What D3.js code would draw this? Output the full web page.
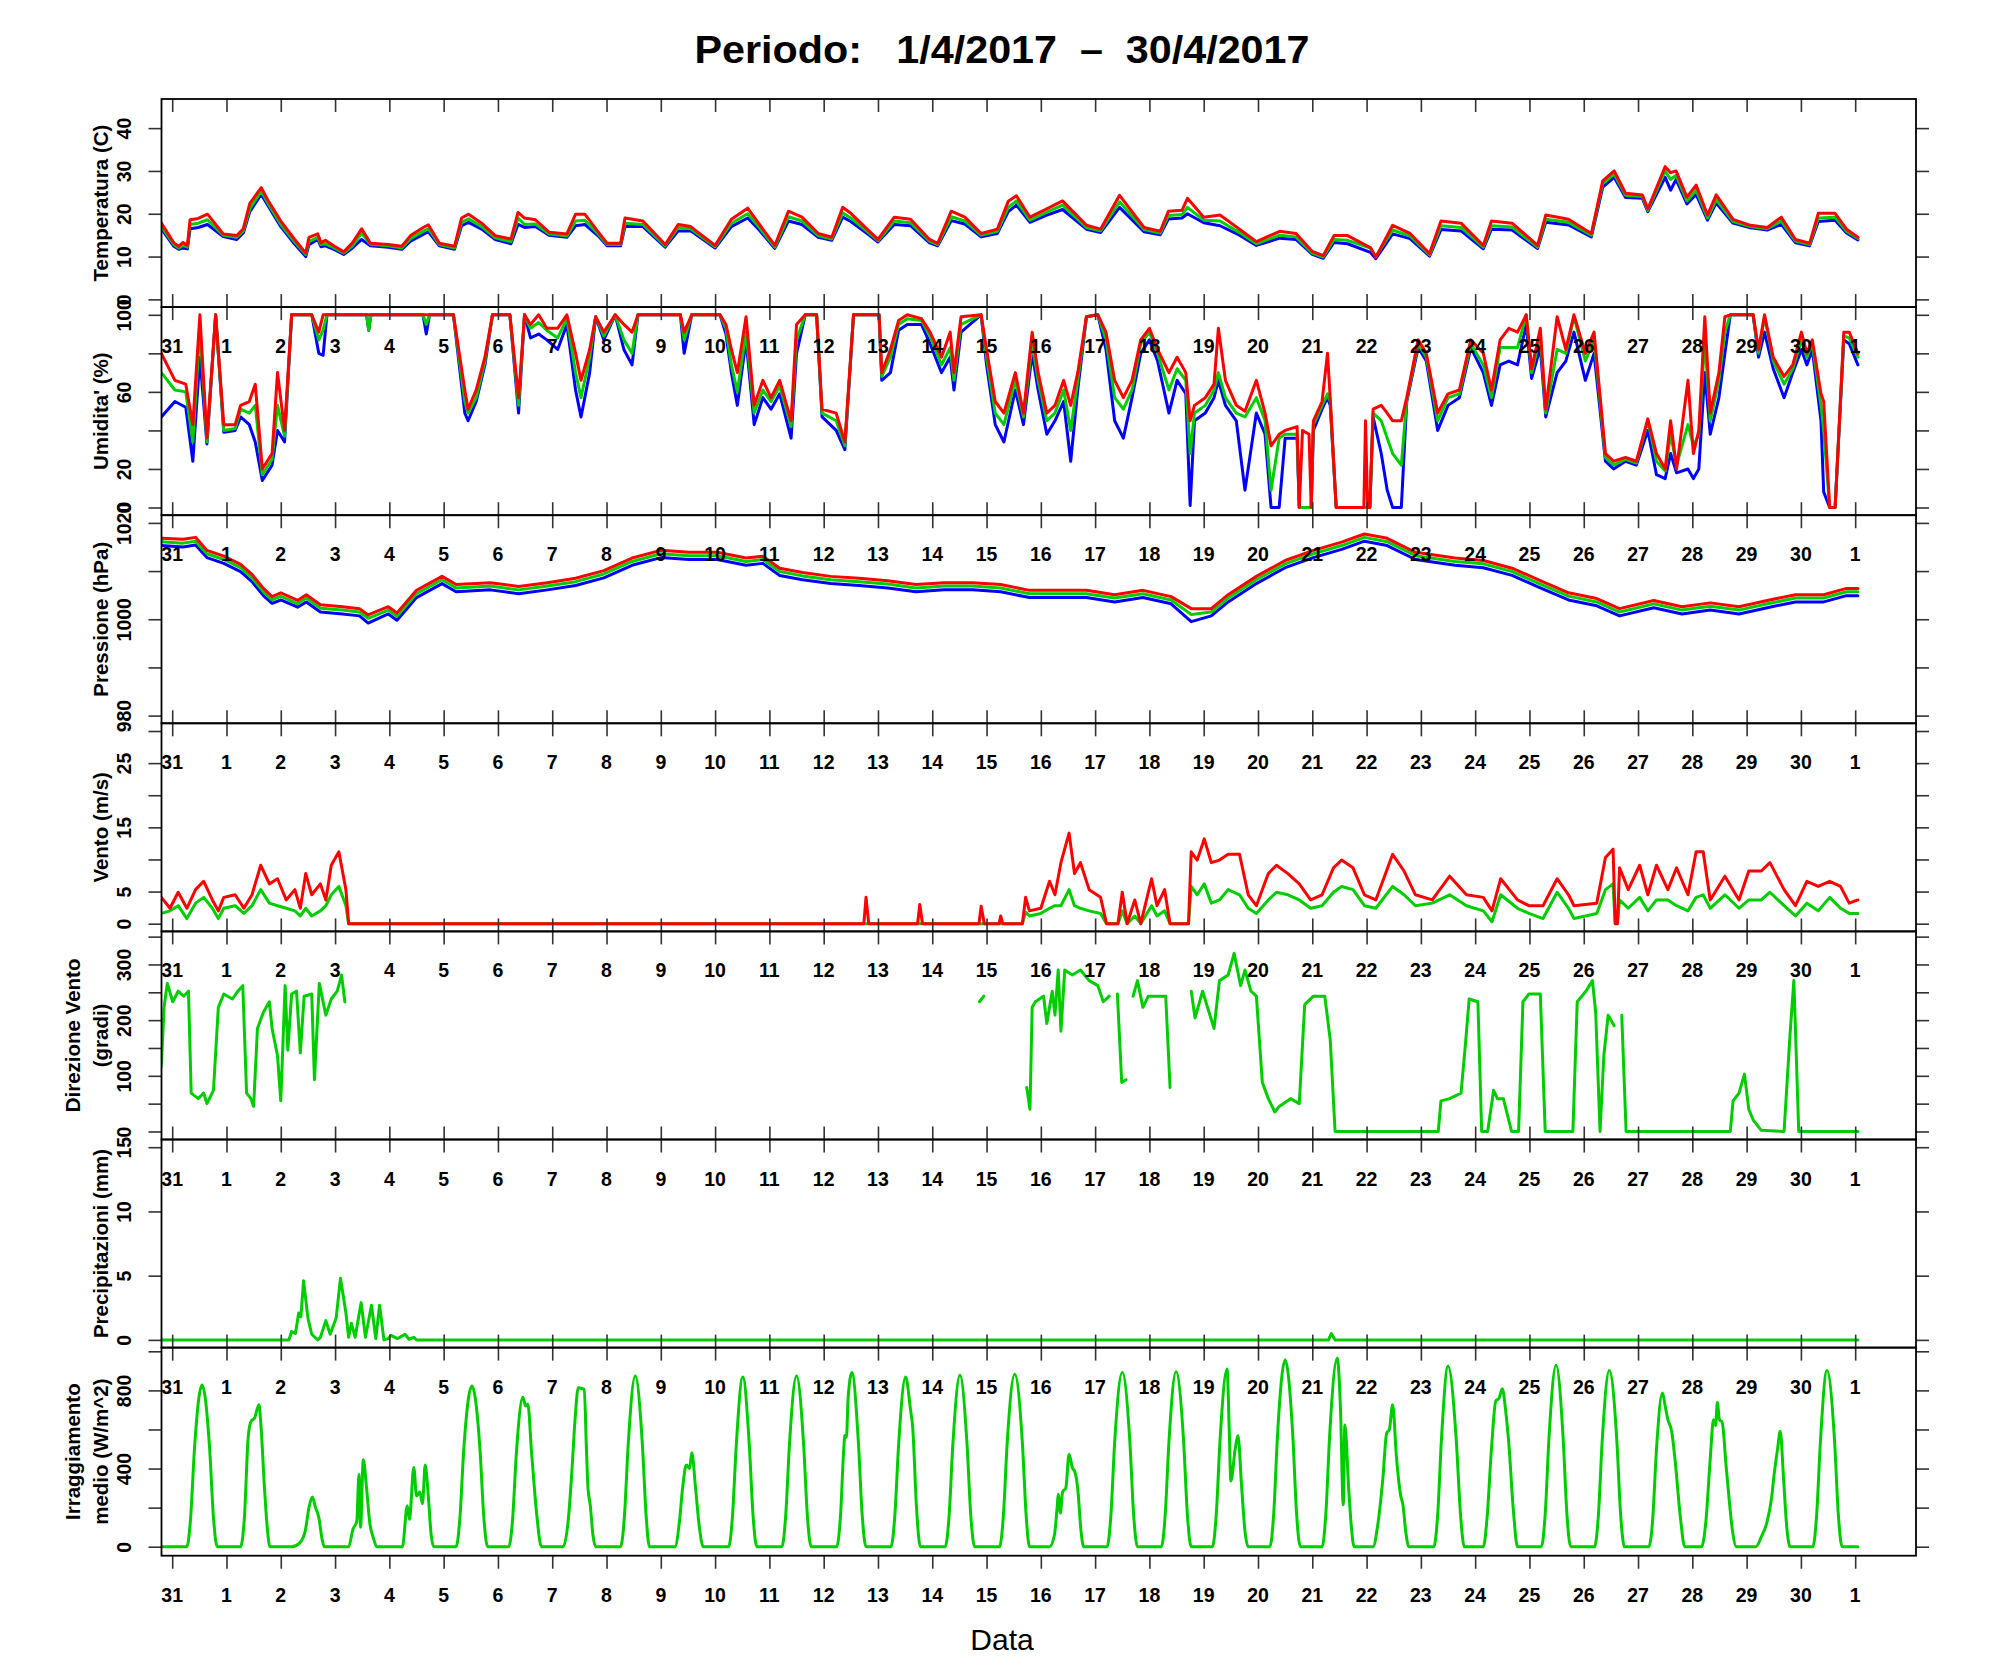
<!DOCTYPE html>
<html>
<head>
<meta charset="utf-8">
<script src="https://cdn.jsdelivr.net/npm/d3@7"></script>
<style>
  body { margin: 0; background: #fff; }
  svg { display: block; }
</style>
</head>
<body>
<svg id="chart"></svg>
<script>
//---------------------------------------------------------------------------//
// Data: time in days from the "31" tick (31 March)
//---------------------------------------------------------------------------//

var dayTicks = [0,1,2,3,4,5,6,7,8,9,10,11,12,13,14,15,16,17,18,19,20,21,22,23,24,25,26,27,28,29,30,31];
var dayLabels = ["31","1","2","3","4","5","6","7","8","9","10","11","12","13","14","15",
                 "16","17","18","19","20","21","22","23","24","25","26","27","28","29","30","1"];

// temperature [t, max, mean, min]
var tempRows = [
[-0.20,17.8,17.0,16.5],[0.03,13.2,12.8,12.4],[0.12,12.4,12.0,11.7],[0.20,13.3,12.6,12.0],[0.28,12.6,12.2,11.8],
[0.33,18.6,17.5,16.5],[0.48,18.9,17.8,16.8],[0.65,19.9,18.6,17.5],[0.94,15.3,15.0,14.7],[1.19,14.9,14.5,14.0],
[1.31,16.5,16.0,15.5],[1.43,22.4,21.2,20.5],[1.64,26.1,25.3,24.5],[1.76,23.2,22.5,22.0],[2.00,18.3,17.5,17.0],
[2.25,14.1,13.5,13.0],[2.46,10.8,10.5,10.0],[2.52,14.5,13.5,12.8],[2.68,15.3,14.5,14.0],[2.74,13.2,12.8,12.3],
[2.82,13.8,13.0,12.5],[2.99,12.4,12.0,11.6],[3.16,11.1,10.8,10.5],[3.32,13.2,12.5,12.0],[3.49,16.5,15.5,14.0],
[3.65,13.1,12.9,12.5],[3.98,12.8,12.5,12.2],[4.23,12.4,12.0,11.7],[4.39,14.9,14.2,13.6],[4.64,16.9,16.0,15.3],
[4.72,17.4,16.5,15.8],[4.92,13.1,12.8,12.5],[5.20,12.4,12.0,11.7],[5.33,19.0,18.0,17.2],[5.46,19.9,18.8,18.0],
[5.70,17.8,17.0,16.4],[5.95,14.9,14.4,14.0],[6.24,14.1,13.5,13.0],[6.37,20.3,19.0,17.5],[6.49,19.0,17.5,16.8],
[6.69,18.6,17.6,17.0],[6.94,15.7,15.3,15.0],[7.27,15.3,14.8,14.5],[7.43,19.9,18.3,17.2],[7.60,19.9,18.5,17.5],
[7.85,15.7,15.2,14.8],[8.01,13.1,12.8,12.5],[8.26,13.1,12.8,12.5],[8.34,19.0,17.8,17.0],[8.67,18.3,17.5,17.0],
[9.08,12.8,12.5,12.2],[9.32,17.5,16.8,16.0],[9.55,17.0,16.5,16.0],[10.00,12.6,12.3,12.0],[10.30,18.7,17.8,17.0],
[10.60,21.3,20.0,19.0],[10.80,17.8,17.0,16.4],[11.10,12.6,12.2,11.9],[11.35,20.6,19.3,18.3],[11.60,19.2,18.3,17.5],
[11.90,15.4,14.9,14.5],[12.15,14.5,14.1,13.8],[12.35,21.5,20.2,19.2],[12.50,20.1,19.0,18.2],[12.80,16.4,15.9,15.4],
[13.00,14.0,13.7,13.4],[13.30,19.2,18.3,17.5],[13.60,18.7,17.9,17.2],[13.95,14.0,13.6,13.2],[14.10,13.1,12.8,12.5],
[14.35,20.6,19.3,18.4],[14.60,19.2,18.3,17.6],[14.90,15.4,15.0,14.6],[15.20,16.4,15.9,15.4],[15.40,22.9,21.5,20.5],
[15.55,24.2,23.0,22.0],[15.80,19.2,18.5,18.0],[16.10,21.1,20.3,19.6],[16.40,23.0,22.0,21.0],[16.84,17.3,16.8,16.4],
[17.10,16.4,16.0,15.6],[17.45,24.3,22.8,21.5],[17.90,16.8,16.3,15.8],[18.20,15.9,15.5,15.1],[18.35,20.6,19.6,18.8],
[18.60,20.8,19.8,19.0],[18.70,23.6,21.5,20.0],[19.00,19.2,18.5,17.9],[19.30,19.7,18.3,17.2],[19.66,16.4,15.6,15.0],
[19.97,13.5,13.0,12.6],[20.40,15.9,15.0,14.3],[20.70,15.4,14.6,14.0],[21.00,11.2,10.8,10.5],[21.20,10.2,9.9,9.6],
[21.40,14.9,14.0,13.3],[21.65,14.9,13.8,13.0],[22.07,12.1,12.0,11.0],[22.17,9.8,10.0,9.5],[22.48,17.3,16.2,15.3],
[22.80,15.4,14.8,14.2],[23.16,10.7,10.4,10.1],[23.37,18.3,17.2,16.3],[23.74,17.8,16.8,16.0],[24.15,12.6,12.2,11.8],
[24.30,18.3,17.2,16.4],[24.68,17.8,16.9,16.2],[25.15,12.6,12.2,11.9],[25.30,19.7,18.7,18.0],[25.72,18.7,18.0,17.4],
[26.14,15.4,15.0,14.6],[26.35,27.7,27.0,26.2],[26.56,30.0,29.3,28.5],[26.77,24.8,24.3,23.8],[27.08,24.4,24.0,23.6],
[27.18,21.1,20.8,20.5],[27.50,31.0,30.0,28.5],[27.60,29.6,28.0,25.5],[27.70,30.0,29.0,28.0],[27.90,23.9,23.0,22.3],
[28.07,26.7,25.5,24.5],[28.28,19.7,19.0,18.5],[28.44,24.4,23.3,22.5],[28.75,18.7,18.2,17.8],[29.07,17.3,17.0,16.7],
[29.38,16.8,16.5,16.2],[29.64,19.2,18.3,17.5],[29.90,14.0,13.6,13.2],[30.16,13.1,12.8,12.5],[30.32,20.1,19.0,18.2],
[30.63,20.1,19.2,18.5],[30.84,16.4,15.9,15.5],[31.05,14.5,14.2,13.9]
];

// relative humidity [t, max, mean, min]
var humRows = [
[-0.20,80,70,47],[0.05,66,61,55],[0.25,64,60,52],[0.38,43,34,24],[0.51,100,93,78],[0.64,36,34,33],
[0.80,100,100,100],[0.95,43,40,39],[1.16,43,41,40],[1.26,53,51,47],[1.42,55,49,43],[1.53,64,53,34],
[1.66,20,17,14],[1.84,28,25,22],[1.94,70,53,40],[2.07,40,37,34],[2.20,100,100,100],[2.57,100,100,100],
[2.70,91,87,80],[2.78,100,92,79],[2.85,100,100,100],[3.58,100,100,100],[3.62,100,92,92],[3.66,100,100,100],
[4.62,100,100,100],[4.68,100,95,90],[4.74,100,100,100],[5.18,100,100,100],[5.39,61,55,49],[5.45,51,49,45],
[5.60,61,57,55],[5.76,78,76,74],[5.90,100,100,100],[6.22,100,100,100],[6.38,57,53,49],[6.49,100,100,100],
[6.60,95,93,88],[6.75,100,96,90],[6.90,93,92,87],[7.10,93,88,82],[7.27,100,98,95],[7.43,80,70,61],
[7.53,66,57,47],[7.69,82,78,70],[7.80,99,99,99],[7.95,91,89,87],[8.16,100,100,100],[8.32,95,87,82],
[8.47,91,80,74],[8.58,100,100,100],[9.36,100,100,100],[9.43,91,87,80],[9.57,100,100,100],[10.09,100,100,100],
[10.20,95,93,90],[10.30,82,74,70],[10.41,70,60,53],[10.57,99,91,87],[10.72,53,49,43],[10.88,66,61,57],
[11.03,57,55,51],[11.19,66,63,59],[11.40,45,42,36],[11.50,95,87,80],[11.66,100,100,100],[11.87,100,100,100],
[11.97,51,49,47],[12.23,49,45,40],[12.39,34,32,30],[12.55,100,100,100],[13.02,100,100,100],[13.07,70,68,66],
[13.23,82,78,70],[13.38,97,95,92],[13.54,100,98,95],[13.80,98,97,95],[13.96,91,89,85],[14.17,78,74,70],
[14.33,91,83,78],[14.40,70,66,61],[14.53,99,95,91],[14.90,100,100,100],[15.00,82,78,74],[15.16,55,49,43],
[15.32,49,43,34],[15.53,70,66,61],[15.68,49,47,43],[15.84,91,85,80],[15.95,70,66,61],[16.11,49,45,38],
[16.26,53,49,45],[16.42,66,61,55],[16.55,53,40,24],[16.68,70,66,61],[16.84,99,99,99],[17.05,100,100,100],
[17.20,91,87,82],[17.36,66,57,45],[17.52,57,51,36],[17.68,66,61,57],[17.84,87,85,80],[18.00,93,91,87],
[18.15,82,80,76],[18.36,70,61,49],[18.51,78,72,66],[18.67,70,66,59],[18.75,45,28,1],[18.83,53,49,45],
[19.03,57,53,49],[19.19,64,61,57],[19.27,93,70,66],[19.40,66,57,53],[19.60,53,49,45],[19.76,50,47,9],
[19.97,66,57,49],[20.13,49,45,38],[20.24,32,9,0],[20.39,38,36,0],[20.50,40,38,36],[20.72,42,38,36],
[20.76,0,0,0],[20.82,40,0,0],[20.94,38,0,0],[20.98,0,0,0],[21.02,45,43,40],[21.18,55,53,51],
[21.28,80,59,57],[21.33,57,55,53],[21.44,0,0,0],[21.95,0,0,0],[21.98,45,0,0],[22.02,0,0,0],
[22.06,0,0,0],[22.12,51,49,47],[22.27,53,45,28],[22.38,49,36,9],[22.48,45,28,0],[22.64,45,22,0],
[22.74,57,56,55],[22.95,87,85,83],[23.10,80,78,76],[23.31,49,45,40],[23.50,59,57,53],[23.71,61,59,57],
[23.92,87,85,83],[24.15,80,74,70],[24.30,61,57,53],[24.46,87,83,74],[24.62,93,83,76],[24.78,91,83,74],
[24.94,100,100,95],[25.04,72,70,67],[25.20,93,89,83],[25.30,51,49,47],[25.51,99,82,70],[25.67,82,80,76],
[25.82,100,99,91],[26.03,80,76,66],[26.19,91,87,80],[26.40,28,26,24],[26.55,24,22,20],[26.77,26,25,24],
[26.97,24,23,22],[27.18,46,45,40],[27.34,28,24,17],[27.50,20,19,15],[27.60,45,38,28],[27.71,20,22,18],
[27.92,66,43,20],[28.02,28,32,15],[28.12,40,38,20],[28.23,99,87,70],[28.33,49,45,38],[28.49,70,66,57],
[28.60,99,91,80],[28.70,100,100,100],[29.12,100,100,100],[29.22,82,80,78],[29.33,100,99,91],[29.49,78,76,72],
[29.69,68,64,57],[29.85,74,72,70],[30.01,91,87,82],[30.11,80,78,74],[30.21,87,85,82],[30.37,59,53,45],
[30.42,55,40,8],[30.53,0,0,0],[30.63,0,0,0],[30.79,91,89,87],[30.89,91,88,85],[31.05,80,78,74]
];

// pressure [t, max, mean, min]
var pressRows = [
[-0.20,1016.8,1016.1,1015.3],[0.20,1016.6,1015.8,1015.0],[0.43,1017.0,1016.2,1015.4],[0.64,1014.3,1013.6,1012.8],
[0.95,1013.1,1012.4,1011.6],[1.26,1011.4,1010.7,1009.9],[1.47,1009.3,1008.6,1007.8],[1.68,1006.4,1005.7,1004.9],
[1.84,1004.7,1004.0,1003.3],[2.00,1005.5,1004.8,1004.0],[2.31,1003.9,1003.2,1002.5],[2.47,1005.1,1004.4,1003.6],
[2.73,1003.0,1002.3,1001.5],[3.14,1002.6,1001.9,1001.1],[3.45,1002.2,1001.5,1000.7],[3.61,1000.9,1000.2,999.2],
[3.98,1002.6,1001.9,1001.1],[4.14,1001.3,1000.6,999.8],[4.50,1006.0,1005.3,1004.5],[4.97,1008.9,1008.2,1007.4],
[5.23,1007.2,1006.5,1005.7],[5.86,1007.6,1006.9,1006.1],[6.38,1006.8,1006.1,1005.3],[6.91,1007.6,1006.9,1006.1],
[7.43,1008.5,1007.8,1007.0],[7.95,1010.1,1009.4,1008.6],[8.47,1012.7,1012.0,1011.2],[9.00,1014.3,1013.6,1012.8],
[9.52,1013.9,1013.2,1012.4],[10.04,1013.9,1013.2,1012.4],[10.57,1012.7,1012.0,1011.2],[10.88,1013.1,1012.4,1011.6],
[11.19,1010.6,1009.9,1009.1],[11.61,1009.7,1009.0,1008.2],[12.13,1008.9,1008.2,1007.4],[12.65,1008.5,1007.8,1007.0],
[13.18,1008.0,1007.3,1006.5],[13.70,1007.2,1006.5,1005.7],[14.22,1007.6,1006.9,1006.1],[14.74,1007.6,1006.9,1006.1],
[15.26,1007.2,1006.5,1005.7],[15.79,1006.0,1005.3,1004.5],[16.30,1006.0,1005.3,1004.5],[16.84,1006.0,1005.3,1004.5],
[17.36,1005.1,1004.4,1003.6],[17.88,1006.0,1005.3,1004.5],[18.40,1004.7,1004.0,1003.2],[18.77,1002.2,1001.0,999.5],
[19.14,1002.2,1001.5,1000.7],[19.45,1005.1,1004.4,1003.6],[19.97,1008.9,1008.2,1007.4],[20.50,1012.2,1011.5,1010.7],
[21.02,1014.3,1013.6,1012.8],[21.54,1016.0,1015.3,1014.5],[21.96,1017.7,1017.0,1016.2],[22.38,1016.8,1016.1,1015.3],
[22.90,1013.9,1013.2,1012.4],[23.63,1012.7,1012.0,1011.2],[24.15,1012.2,1011.5,1010.7],[24.68,1010.6,1009.9,1009.1],
[25.20,1008.0,1007.3,1006.5],[25.72,1005.5,1004.8,1004.0],[26.24,1004.3,1003.6,1002.8],[26.66,1002.2,1001.5,1000.7],
[27.29,1003.9,1003.2,1002.4],[27.81,1002.6,1001.9,1001.1],[28.33,1003.4,1002.7,1001.9],[28.86,1002.6,1001.9,1001.1],
[29.38,1003.9,1003.2,1002.4],[29.90,1005.1,1004.4,1003.6],[30.42,1005.1,1004.4,1003.6],[30.84,1006.4,1005.7,1004.9],
[31.05,1006.4,1005.7,1004.9]
];

// wind speed [t, gust/max, mean]
var windRows = [
[-0.20,4.1,1.6],[-0.04,2.4,2.0],[0.11,4.9,2.8],[0.27,2.4,0.8],[0.43,5.3,3.2],[0.58,6.6,4.1],[0.74,3.7,2.4],
[0.85,2.0,0.8],[0.95,4.1,2.4],[1.16,4.5,2.8],[1.32,2.4,1.6],[1.47,4.5,2.8],[1.63,9.1,5.3],[1.79,6.2,3.2],
[1.94,7.0,2.8],[2.10,3.7,2.4],[2.26,5.3,2.0],[2.36,2.4,1.2],[2.46,7.8,2.4],[2.57,4.5,1.2],[2.73,6.2,2.0],
[2.83,3.7,2.8],[2.93,9.1,4.5],[3.07,11.2,5.8],[3.20,5.3,2.8],[3.25,0,0],[12.74,0,0],[12.78,4.1,0],
[12.83,0,0],[13.73,0,0],[13.77,3.0,0],[13.82,0,0],[14.86,0,0],[14.90,2.7,0],[14.96,0,0],[15.23,0,0],
[15.26,1.2,0],[15.30,0,0],[15.66,0,0],[15.72,4.1,1.8],[15.79,2.0,1.2],[16.00,2.4,1.6],[16.16,6.6,2.4],
[16.26,4.5,2.8],[16.37,9.5,2.8],[16.52,14.1,5.3],[16.62,7.8,2.8],[16.73,9.5,2.4],[16.89,5.3,2.0],
[17.10,4.1,1.6],[17.21,0,0],[17.42,0,0],[17.50,4.9,2.0],[17.59,0,0],[17.73,3.7,1.2],[17.84,0,0],
[18.04,7.0,2.8],[18.14,2.8,1.2],[18.28,5.3,2.0],[18.38,0,0],[18.72,0,0],[18.77,11.2,5.8],[18.88,9.9,4.5],
[19.01,13.2,6.2],[19.14,9.5,3.2],[19.29,9.9,3.7],[19.45,10.8,5.3],[19.66,10.8,4.5],[19.82,4.5,2.4],
[19.97,2.8,1.6],[20.19,7.8,3.7],[20.34,9.1,4.9],[20.55,7.8,4.5],[20.76,6.2,3.7],[20.97,3.7,2.4],
[21.18,4.5,2.8],[21.39,8.7,4.9],[21.54,9.9,5.8],[21.75,8.7,5.3],[21.96,4.5,2.8],[22.17,3.7,2.4],
[22.48,10.8,5.8],[22.69,8.2,4.5],[22.90,4.5,2.8],[23.21,3.7,3.2],[23.53,7.4,4.5],[23.84,4.5,2.8],
[24.15,4.1,2.0],[24.31,2.0,0.3],[24.47,7.0,4.5],[24.78,3.7,2.4],[24.99,2.8,1.6],[25.25,2.8,0.8],
[25.51,7.0,4.9],[25.72,4.5,2.4],[25.82,2.8,0.8],[26.24,3.2,1.6],[26.40,10.3,5.3],[26.54,11.6,6.2],
[26.58,0,0],[26.62,0,0],[26.66,8.7,3.7],[26.82,5.3,2.4],[27.03,9.1,4.1],[27.18,4.5,2.0],[27.34,9.1,3.7],
[27.55,5.3,3.7],[27.71,8.7,2.8],[27.92,4.5,2.0],[28.07,11.2,4.1],[28.20,11.2,4.5],[28.33,3.7,2.4],
[28.60,7.4,4.5],[28.86,3.7,2.4],[29.04,8.2,3.7],[29.27,8.2,3.7],[29.43,9.5,4.9],[29.69,5.3,2.8],
[29.90,2.8,1.2],[30.11,6.6,3.2],[30.32,5.8,2.0],[30.53,6.6,4.1],[30.73,5.8,2.4],[30.89,3.2,1.6],
[31.05,3.7,1.6]
];

// wind direction [t, degrees], null = no data
var dirRows = [
[-0.20,117],[-0.15,223],[-0.09,266],[0.01,233],[0.11,252],[0.21,243],[0.30,252],[0.35,69],[0.48,59],
[0.58,69],[0.64,50],[0.76,74],[0.85,223],[0.95,247],[1.11,238],[1.21,252],[1.30,262],[1.37,69],
[1.45,59],[1.50,45],[1.57,185],[1.68,214],[1.79,233],[1.84,185],[1.94,136],[2.00,55],[2.08,262],
[2.13,146],[2.20,247],[2.29,252],[2.36,141],[2.43,243],[2.57,247],[2.62,93],[2.71,266],[2.83,209],
[2.93,238],[3.04,252],[3.12,281],[3.18,233],[3.20,null],[14.87,233],[14.95,243],[15.00,null],
[15.74,79],[15.80,40],[15.84,223],[15.90,233],[16.05,243],[16.11,194],[16.21,252],[16.26,209],
[16.32,290],[16.37,180],[16.44,290],[16.58,281],[16.73,290],[16.89,271],[17.05,262],[17.15,233],
[17.26,243],[17.30,null],[17.41,247],[17.49,88],[17.57,93],[17.60,null],[17.70,243],[17.78,271],
[17.88,223],[17.98,243],[18.30,243],[18.38,79],[18.40,null],[18.77,252],[18.84,204],[18.98,252],
[19.19,185],[19.29,271],[19.45,281],[19.56,320],[19.68,262],[19.76,290],[19.87,252],[19.97,243],
[20.08,88],[20.19,59],[20.31,35],[20.39,45],[20.60,59],[20.76,50],[20.86,228],[21.02,243],[21.23,243],
[21.33,165],[21.42,0],[23.32,0],[23.37,55],[23.53,59],[23.74,69],[23.82,156],[23.89,238],[24.05,233],
[24.12,0],[24.23,0],[24.34,74],[24.41,59],[24.52,59],[24.67,0],[24.80,0],[24.88,233],[24.99,247],
[25.20,247],[25.29,0],[25.80,0],[25.88,233],[26.04,252],[26.16,271],[26.22,214],[26.30,0],[26.37,136],
[26.45,209],[26.56,190],[26.60,null],[26.70,209],[26.78,0],[28.70,0],[28.75,55],[28.86,69],[28.96,103],
[29.04,40],[29.12,21],[29.27,2],[29.69,0],[29.80,175],[29.87,271],[29.96,0],[31.05,0]
];

// precipitation [t, mm]
var rainRows = [
[-0.20,0],[2.15,0],[2.20,0.65],[2.27,0.5],[2.33,2.1],[2.37,1.8],[2.42,4.6],[2.50,1.7],[2.57,0.44],
[2.68,0],[2.73,0.2],[2.83,1.5],[2.91,0.44],[3.02,1.7],[3.10,4.8],[3.20,2.1],[3.25,0.2],[3.30,1.3],
[3.37,0.2],[3.48,2.9],[3.56,0.2],[3.67,2.7],[3.75,0.1],[3.82,2.7],[3.90,0],[3.98,0.1],[4.03,0.35],
[4.15,0.1],[4.29,0.44],[4.36,0.05],[4.45,0.2],[4.50,0],[21.30,0],[21.35,0.5],[21.42,0],[31.05,0]
];

// mean irradiance [t, W/m^2]
var irrRows = [
[-0.20,0],
[0.27,0],[0.34,150],[0.41,500],[0.55,828],[0.69,500],[0.76,150],[0.83,0],
[1.26,0],[1.33,150],[1.40,560],[1.45,640],[1.52,660],[1.56,700],[1.60,727],[1.63,640],[1.70,300],[1.75,100],[1.80,0],
[2.20,0],[2.35,20],[2.45,80],[2.52,200],[2.58,254],[2.64,200],[2.70,150],[2.76,40],[2.80,0],
[3.25,0],[3.33,90],[3.40,130],[3.44,370],[3.47,100],[3.52,445],[3.58,300],[3.64,120],[3.70,50],[3.77,0],
[4.24,0],[4.33,210],[4.37,140],[4.45,405],[4.50,260],[4.56,280],[4.61,220],[4.66,418],[4.72,250],[4.77,60],[4.82,0],
[5.23,0],[5.30,150],[5.37,495],[5.52,822],[5.67,495],[5.74,150],[5.81,0],
[6.20,0],[6.27,140],[6.34,480],[6.46,765],[6.51,720],[6.55,730],[6.62,480],[6.72,150],[6.80,0],
[7.20,0],[7.30,150],[7.36,377],[7.42,650],[7.48,814],[7.59,805],[7.63,500],[7.66,296],[7.70,214],[7.75,60],[7.80,0],
[8.26,0],[8.33,157],[8.40,525],[8.53,874],[8.66,525],[8.73,157],[8.79,0],
[9.26,0],[9.34,120],[9.40,296],[9.47,418],[9.53,400],[9.57,481],[9.64,300],[9.71,100],[9.78,0],
[10.25,0],[10.32,156],[10.39,520],[10.51,869],[10.63,520],[10.70,156],[10.77,0],
[11.23,0],[11.30,157],[11.37,525],[11.50,874],[11.63,525],[11.70,157],[11.77,0],
[12.24,0],[12.31,160],[12.37,500],[12.39,569],[12.42,560],[12.45,760],[12.52,891],[12.64,530],[12.71,160],[12.78,0],
[13.24,0],[13.31,156],[13.38,520],[13.51,869],[13.60,700],[13.64,609],[13.71,200],[13.78,0],
[14.24,0],[14.31,158],[14.38,526],[14.51,877],[14.64,526],[14.71,158],[14.78,0],
[15.24,0],[15.31,159],[15.38,530],[15.52,883],[15.66,530],[15.73,159],[15.79,0],
[16.16,0],[16.25,60],[16.30,200],[16.32,268],[16.36,172],[16.40,280],[16.46,300],[16.52,473],[16.58,405],[16.63,380],[16.68,296],[16.74,80],[16.79,0],
[17.22,0],[17.29,160],[17.36,535],[17.50,891],[17.64,535],[17.71,160],[17.78,0],
[18.22,0],[18.29,161],[18.36,538],[18.49,896],[18.63,538],[18.70,161],[18.77,0],
[19.16,0],[19.23,160],[19.30,540],[19.43,910],[19.47,600],[19.50,336],[19.58,500],[19.63,569],[19.70,300],[19.76,80],[19.82,0],
[20.22,0],[20.29,172],[20.36,574],[20.50,956],[20.64,574],[20.71,172],[20.78,0],
[21.18,0],[21.25,170],[21.32,570],[21.46,964],[21.52,700],[21.57,214],[21.60,623],[21.67,300],[21.72,100],[21.77,0],
[22.12,0],[22.20,100],[22.30,350],[22.37,582],[22.42,600],[22.48,727],[22.55,459],[22.63,260],[22.67,214],[22.72,80],[22.78,0],
[23.24,0],[23.31,166],[23.38,554],[23.50,924],[23.65,554],[23.73,166],[23.80,0],
[24.15,0],[24.22,150],[24.30,500],[24.38,746],[24.44,760],[24.50,809],[24.56,700],[24.62,527],[24.70,200],[24.78,0],
[25.22,0],[25.29,167],[25.36,557],[25.49,929],[25.62,557],[25.69,167],[25.76,0],
[26.20,0],[26.27,162],[26.34,541],[26.47,902],[26.61,541],[26.68,162],[26.75,0],
[27.20,0],[27.27,140],[27.34,500],[27.45,787],[27.50,720],[27.55,650],[27.62,590],[27.68,450],[27.78,150],[27.86,0],
[28.17,0],[28.25,130],[28.33,450],[28.39,650],[28.43,620],[28.46,738],[28.50,650],[28.55,637],[28.62,420],[28.67,268],[28.74,80],[28.81,0],
[29.17,0],[29.27,50],[29.38,131],[29.46,250],[29.51,377],[29.57,500],[29.62,591],[29.68,350],[29.74,100],[29.80,0],
[30.22,0],[30.29,162],[30.36,541],[30.48,902],[30.62,541],[30.69,162],[30.76,0],
[31.05,0]
];

// y tick values and which of them carry a label
var tempTicks = [0,10,20,30,40],               tempLabels = [0,10,20,30,40];
var humTicks = [0,20,40,60,80,100],           humLabels = [0,20,60,100];
var pressTicks = [980,990,1000,1010,1020],    pressLabels = [980,1000,1020];
var windTicks = [0,5,10,15,20,25,30],         windLabels = [0,5,15,25];
var dirTicks = [0,50,100,150,200,250,300,350], dirLabels = [0,100,200,300];
var rainTicks = [0,5,10,15],                  rainLabels = [0,5,10,15];
var irrTicks = [0,200,400,600,800,1000],      irrLabels = [0,400,800];

//---------------------------------------------------------------------------//
// Chart setup
//---------------------------------------------------------------------------//
var svgWidth = 1991;
var svgHeight = 1680;

var plotLeft = 161.5;
var plotRight = 1916;
var plotTop = 99;
var panelH = 208.1;

var RED = "#ff0000", GREEN = "#00cd00", BLUE = "#0000ff";
var FONT = "'Liberation Sans', Arial, Helvetica, sans-serif";

var panels = [
    { title: ["Temperatura (C)"], domain: [-1.8, 46.8], ticks: tempTicks, labels: tempLabels, rows: tempRows,
      series: [{ col: 3, color: BLUE }, { col: 2, color: GREEN }, { col: 1, color: RED }] },
    { title: ["Umidita' (%)"], domain: [-4, 104], ticks: humTicks, labels: humLabels, rows: humRows,
      series: [{ col: 3, color: BLUE }, { col: 2, color: GREEN }, { col: 1, color: RED }] },
    { title: ["Pressione (hPa)"], domain: [978.4, 1021.6], ticks: pressTicks, labels: pressLabels, rows: pressRows,
      series: [{ col: 3, color: BLUE }, { col: 2, color: GREEN }, { col: 1, color: RED }] },
    { title: ["Vento (m/s)"], domain: [-1.2, 31.2], ticks: windTicks, labels: windLabels, rows: windRows,
      series: [{ col: 2, color: GREEN }, { col: 1, color: RED }] },
    { title: ["Direzione Vento", "(gradi)"], domain: [-14.4, 359.4], ticks: dirTicks, labels: dirLabels, rows: dirRows,
      series: [{ col: 1, color: GREEN }] },
    { title: ["Precipitazioni (mm)"], domain: [-0.6, 15.6], ticks: rainTicks, labels: rainLabels, rows: rainRows,
      series: [{ col: 1, color: GREEN }] },
    { title: ["Irraggiamento", "medio (W/m^2)"], domain: [-46, 1019], ticks: irrTicks, labels: irrLabels, rows: irrRows,
      series: [{ col: 1, color: GREEN }], curve: d3.curveMonotoneX }
];

var svg = d3.select("#chart")
    .attr("width", svgWidth)
    .attr("height", svgHeight);

svg.append("rect")
    .attr("width", svgWidth)
    .attr("height", svgHeight)
    .attr("fill", "#fff");

// shared time scale
var x = d3.scaleLinear()
    .domain([-0.197, 32.12])
    .range([plotLeft, plotRight]);

function styleTicks(g) {
    g.select(".domain").remove();
    g.selectAll(".tick line").attr("stroke", "#333").attr("stroke-width", 1.6);
}

panels.forEach(function(p, i) {
    var top = plotTop + i * panelH;
    var bottom = top + panelH;

    var y = d3.scaleLinear()
        .domain(p.domain)
        .range([bottom, top]);

    var g = svg.append("g");

    g.append("clipPath")
        .attr("id", "clip" + i)
        .append("rect")
        .attr("x", plotLeft)
        .attr("y", top)
        .attr("width", plotRight - plotLeft)
        .attr("height", panelH);

    // series lines
    p.series.forEach(function(s) {
        var line = d3.line()
            .defined(function(d) { return d[s.col] != null; })
            .x(function(d) { return x(d[0]); })
            .y(function(d) { return y(d[s.col]); })
            .curve(p.curve || d3.curveLinear);

        g.append("path")
            .datum(p.rows)
            .attr("d", line)
            .attr("fill", "none")
            .attr("stroke", s.color)
            .attr("stroke-width", 3)
            .attr("stroke-linejoin", "round")
            .attr("stroke-linecap", "round")
            .attr("clip-path", "url(#clip" + i + ")");
    });

    // left axis with rotated labels
    var leftAxis = g.append("g")
        .attr("transform", "translate(" + plotLeft + ",0)")
        .call(d3.axisLeft(y)
            .tickValues(p.ticks)
            .tickSize(13)
            .tickFormat(function(d) { return p.labels.indexOf(d) >= 0 ? d : ""; }));
    styleTicks(leftAxis);
    leftAxis.attr("font-family", FONT).attr("font-size", 19.5).attr("font-weight", "bold");
    leftAxis.selectAll(".tick text")
        .attr("x", 0)
        .attr("dy", "0.35em")
        .attr("fill", "#000")
        .attr("text-anchor", "middle")
        .attr("transform", "translate(-37,0) rotate(-90)");

    // right axis, ticks only
    var rightAxis = g.append("g")
        .attr("transform", "translate(" + plotRight + ",0)")
        .call(d3.axisRight(y).tickValues(p.ticks).tickSize(13).tickFormat(""));
    styleTicks(rightAxis);

    // day ticks pointing down from the panel top
    var topIn = g.append("g")
        .attr("transform", "translate(0," + top + ")")
        .call(d3.axisBottom(x).tickValues(dayTicks).tickSize(13).tickFormat(""));
    styleTicks(topIn);

    if (i > 0) {
        // day ticks pointing up into the panel above, labels inside this panel
        var topOut = g.append("g")
            .attr("transform", "translate(0," + top + ")")
            .call(d3.axisTop(x).tickValues(dayTicks).tickSize(13).tickFormat(""));
        styleTicks(topOut);

        g.selectAll(".daylab")
            .data(dayTicks)
            .enter()
            .append("text")
            .attr("x", function(d) { return x(d); })
            .attr("y", top + 46)
            .attr("text-anchor", "middle")
            .attr("font-family", FONT)
            .attr("font-size", 19.5)
            .attr("font-weight", "bold")
            .text(function(d, k) { return dayLabels[k]; });
    }

    if (i === panels.length - 1) {
        var bottomAxis = g.append("g")
            .attr("transform", "translate(0," + bottom + ")")
            .call(d3.axisBottom(x).tickValues(dayTicks).tickSize(13).tickFormat(""));
        styleTicks(bottomAxis);

        g.selectAll(".bottomlab")
            .data(dayTicks)
            .enter()
            .append("text")
            .attr("x", function(d) { return x(d); })
            .attr("y", bottom + 46)
            .attr("text-anchor", "middle")
            .attr("font-family", FONT)
            .attr("font-size", 19.5)
            .attr("font-weight", "bold")
            .text(function(d, k) { return dayLabels[k]; });
    }

    // panel frame
    g.append("rect")
        .attr("x", plotLeft)
        .attr("y", top)
        .attr("width", plotRight - plotLeft)
        .attr("height", panelH)
        .attr("fill", "none")
        .attr("stroke", "#000")
        .attr("stroke-width", 1.8);

    // y axis title (one or two lines)
    var titleX = p.title.length === 1 ? [101] : [73, 101];
    p.title.forEach(function(t, k) {
        g.append("text")
            .attr("transform", "translate(" + titleX[k] + "," + ((top + bottom) / 2) + ") rotate(-90)")
            .attr("dy", "0.35em")
            .attr("text-anchor", "middle")
            .attr("font-family", FONT)
            .attr("font-size", 20.5)
            .attr("font-weight", "bold")
            .text(t);
    });
});

// main title
svg.append("text")
    .attr("x", 1002)
    .attr("y", 63)
    .attr("text-anchor", "middle")
    .attr("font-family", FONT)
    .attr("font-size", 39)
    .attr("font-weight", "bold")
    .attr("textLength", 615)
    .attr("lengthAdjust", "spacingAndGlyphs")
    .style("white-space", "pre")
    .text("Periodo:   1/4/2017  \u2013  30/4/2017");

// x axis title
svg.append("text")
    .attr("x", 1002)
    .attr("y", 1650)
    .attr("text-anchor", "middle")
    .attr("font-family", FONT)
    .attr("font-size", 30)
    .text("Data");
</script>
</body>
</html>
